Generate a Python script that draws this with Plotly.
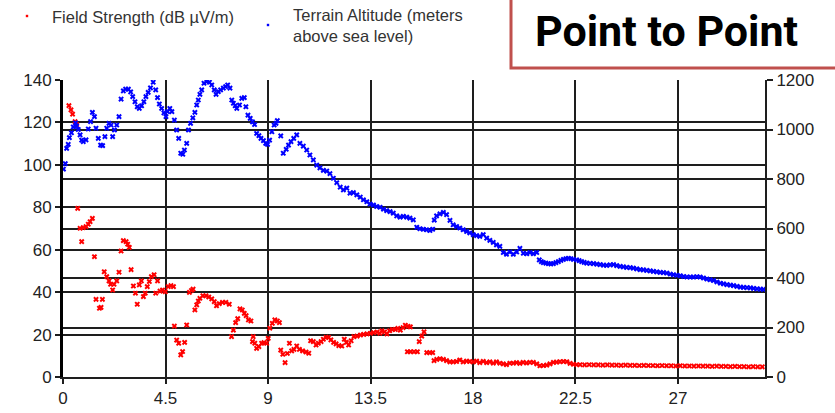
import plotly.graph_objects as go

# ---------------- data ----------------
fs_km = [0.26, 0.35, 0.42, 0.53, 0.6, 0.645, 0.75, 0.82, 0.89, 1.01, 1.11, 1.19, 1.29, 1.38, 1.45,
         1.6, 1.67, 1.73, 1.81, 1.92, 2.02, 2.09, 2.18, 2.24, 2.36, 2.46, 2.55, 2.65, 2.77, 2.84,
         2.91, 2.99, 3.09, 3.18, 3.26, 3.35, 3.44, 3.53, 3.61, 3.7, 3.79, 3.88, 4.0, 4.07, 4.15,
         4.26, 4.37, 4.49, 4.62, 4.74, 4.85, 4.89, 4.99, 5.08, 5.17, 5.25, 5.34, 5.43, 5.55, 5.64,
         5.71, 5.79, 5.87, 5.94, 6.01, 6.14, 6.28, 6.4, 6.53, 6.64, 6.74, 6.86, 7.0, 7.15, 7.3,
         7.4, 7.48, 7.58, 7.67, 7.77, 7.87, 7.96, 8.04, 8.14, 8.25, 8.32, 8.35, 8.42, 8.5, 8.6,
         8.72, 8.82, 8.94, 9.01, 9.08, 9.19, 9.3, 9.41, 9.5, 9.56, 9.65, 9.75, 9.85, 9.94, 10.04,
         10.14, 10.26, 10.38, 10.52, 10.67, 10.79, 10.87, 10.99, 11.11, 11.21, 11.33, 11.43, 11.55,
         11.66, 11.76, 11.88, 11.99, 12.11, 12.24, 12.35, 12.44, 12.54, 12.65, 12.77, 12.91, 13.06,
         13.2, 13.35, 13.5, 13.64, 13.79, 13.91, 14.0, 14.12, 14.22, 14.34, 14.46, 14.59, 14.7,
         14.81, 14.93, 15.03, 15.15, 15.25, 15.12, 15.26, 15.41, 15.56, 15.64, 15.75, 15.85, 15.97,
         16.11, 16.23, 16.29, 16.41, 16.55, 16.7, 16.84, 16.99, 17.13, 17.28, 17.42, 17.57, 17.72,
         17.86, 18.01, 18.16, 18.3, 18.45, 18.6, 18.74, 18.89, 19.03, 19.18, 19.33, 19.47, 19.62,
         19.77, 19.91, 20.06, 20.2, 20.35, 20.5, 20.65, 20.8, 20.94, 21.09, 21.24, 21.38, 21.53,
         21.67, 21.82, 21.97, 22.12, 22.26, 22.41, 22.55, 22.7, 22.9, 23.1, 23.3, 23.5, 23.7, 23.9,
         24.1, 24.3, 24.5, 24.7, 24.9, 25.1, 25.3, 25.5, 25.7, 25.9, 26.1, 26.3, 26.5, 26.7, 26.9,
         27.1, 27.3, 27.5, 27.7, 27.9, 28.1, 28.3, 28.5, 28.7, 28.9, 29.1, 29.3, 29.5, 29.7, 29.9,
         30.1, 30.3, 30.5, 30.7]
fs_db = [127.9, 125.9, 123.9, 120.4, 119.0, 79.5, 70.1, 63.8, 70.4, 70.9, 72.0, 73.2, 74.8, 56.7, 36.6,
         32.4, 32.8, 36.6, 49.6, 47.3, 45.3, 43.7, 41.0, 43.7, 45.3, 49.4, 59.4, 64.3, 63.8, 62.6,
         61.1, 50.6, 42.9, 39.5, 34.3, 43.4, 45.3, 37.9, 39.5, 42.6, 45.0, 47.3, 48.2, 39.5, 45.3,
         40.5, 41.0, 40.2, 42.6, 43.1, 42.6, 24.0, 17.4, 15.9, 10.4, 12.0, 16.3, 24.5, 39.9, 40.8,
         41.4, 31.6, 34.0, 35.8, 37.1, 38.3, 38.3, 37.7, 36.8, 35.5, 33.6, 34.6, 35.2, 35.2, 34.3,
         19.0, 22.1, 25.6, 27.5, 32.1, 31.6, 30.0, 28.9, 26.9, 26.4, 16.7, 19.0, 15.9, 13.5, 14.3,
         15.9, 16.2, 15.9, 18.2, 23.0, 25.3, 26.9, 26.4, 25.6, 12.7, 10.7, 6.8, 11.1, 15.9, 12.3,
         13.0, 14.6, 13.0, 12.3, 11.8, 11.2, 17.1, 16.7, 15.1, 15.9, 16.7, 17.8, 18.7,
         18.7, 17.5, 16.3, 15.6, 14.8, 14.6, 17.8, 16.3, 15.1, 17.1, 19.0, 19.3, 19.8,
         20.1, 20.3, 20.6, 20.9, 21.2, 20.6, 21.8, 21.3, 20.3, 21.8, 22.4, 22.4, 22.9,
         22.1, 23.3, 24.4, 23.9, 23.6, 11.9, 11.9, 11.9, 11.9, 16.7, 19.3, 21.3, 11.5,
         11.5, 11.5, 7.7, 8.3, 8.6, 8.3, 7.7, 7.1, 7.1, 7.3, 8.0, 7.1, 7.5,
         7.3, 7.1, 7.5, 6.8, 7.4, 6.8, 7.1, 6.5, 7.1, 6.5, 6.2, 5.8, 6.5,
         6.5, 6.8, 6.4, 6.9, 6.6, 6.9, 6.9, 6.2, 5.3, 5.4, 5.6, 6.2, 6.9,
         7.0, 7.2, 7.3, 7.2, 6.4, 6.0, 5.8, 5.8, 5.7, 5.8, 5.7, 5.7, 5.6, 5.7,
         5.6, 5.6, 5.5, 5.6, 5.5, 5.5, 5.4, 5.5, 5.4, 5.4, 5.3, 5.4, 5.3, 5.3, 5.2,
         5.3, 5.2, 5.2, 5.1, 5.2, 5.1, 5.1, 5.0, 5.1, 5.0, 5.0, 4.9, 5.0, 4.9, 4.9,
         4.8, 4.9, 4.8, 4.8]

ta_km = [0.02, 0.1, 0.16, 0.23, 0.28, 0.37, 0.45, 0.55, 0.6, 0.67, 0.75, 0.82, 0.89, 1.01, 1.11,
         1.21, 1.29, 1.38, 1.45, 1.55, 1.65, 1.74, 1.84, 1.92, 2.02, 2.11, 2.18, 2.26, 2.36, 2.46,
         2.55, 2.65, 2.75, 2.87, 2.97, 3.06, 3.16, 3.26, 3.35, 3.45, 3.55, 3.64, 3.74, 3.84, 3.96,
         4.07, 4.15, 4.23, 4.33, 4.43, 4.52, 4.59, 4.69, 4.78, 4.89, 4.99, 5.08, 5.17, 5.26, 5.33,
         5.43, 5.51, 5.6, 5.7, 5.79, 5.87, 5.94, 6.01, 6.09, 6.19, 6.31, 6.43, 6.53, 6.64, 6.72,
         6.82, 6.92, 7.04, 7.14, 7.23, 7.33, 7.41, 7.48, 7.56, 7.63, 7.75, 7.85, 7.96, 8.03, 8.12,
         8.22, 8.32, 8.41, 8.5, 8.6, 8.69, 8.8, 8.9, 8.98, 9.07, 9.17, 9.27, 9.35, 9.41, 9.56,
         9.67, 9.8, 9.9, 10.01, 10.13, 10.26, 10.4, 10.55, 10.7, 10.84, 10.99, 11.14, 11.28, 11.43,
         11.58, 11.72, 11.87, 12.02, 12.17, 12.31, 12.46, 12.6, 12.75, 12.9, 13.05, 13.19, 13.34,
         13.48, 13.63, 13.77, 13.92, 14.07, 14.21, 14.36, 14.5, 14.65, 14.8, 14.94, 15.09, 15.23,
         15.38, 15.53, 15.67, 15.82, 15.96, 16.11, 16.23, 16.3, 16.4, 16.55, 16.7, 16.84, 16.99,
         17.13, 17.28, 17.42, 17.57, 17.72, 17.86, 18.01, 18.16, 18.3, 18.45, 18.6, 18.74, 18.89,
         19.03, 19.18, 19.33, 19.47, 19.62, 19.77, 19.92, 20.06, 20.21, 20.36, 20.5, 20.65, 20.8,
         20.91, 21.0, 21.09, 21.2, 21.31, 21.42, 21.53, 21.64, 21.75, 21.86, 21.97, 22.08, 22.19,
         22.3, 22.41, 22.55, 22.66, 22.77, 22.88, 22.99, 23.14, 23.29, 23.44, 23.58, 23.73, 23.87,
         24.02, 24.17, 24.31, 24.46, 24.6, 24.75, 24.9, 25.04, 25.19, 25.34, 25.48, 25.63, 25.78,
         25.92, 26.07, 26.22, 26.36, 26.51, 26.66, 26.8, 26.95, 27.1, 27.25, 27.39, 27.54, 27.68,
         27.83, 27.97, 28.12, 28.27, 28.41, 28.56, 28.71, 28.86, 29.0, 29.15, 29.3, 29.44, 29.59,
         29.74, 29.88, 30.03, 30.18, 30.32, 30.47, 30.62, 30.75]
ta_m = [840, 862, 924, 940, 967, 987, 1010, 1027, 1014, 1000, 978, 957, 951, 958, 1002,
        1032, 1069, 1052, 1005, 964, 937, 935, 971, 1005, 1025, 1018, 971, 998, 1018, 1052,
        1123, 1156, 1163, 1163, 1152, 1133, 1112, 1092, 1085, 1096, 1112, 1133, 1150, 1168, 1191,
        1160, 1129, 1103, 1085, 1067, 1052, 1072, 1085, 1072, 1038, 998, 964, 904, 900, 917,
        944, 998, 1025, 1047, 1069, 1099, 1119, 1142, 1160, 1187, 1194, 1191, 1180, 1160, 1142,
        1153, 1160, 1167, 1173, 1180, 1167, 1119, 1106, 1096, 1085, 1099, 1126, 1129, 1092, 1058,
        1045, 1031, 1020, 984, 975, 964, 955, 944, 940, 957, 991, 1018, 1025, 1036, 974,
        904, 920, 937, 951, 964, 978, 944, 933, 917, 897, 877, 856, 845, 835,
        832, 822, 803, 785, 767, 756, 763, 743, 745, 736, 727, 716, 708,
        699, 695, 689, 686, 678, 672, 668, 662, 651, 646, 649, 646, 642,
        635, 605, 599, 597, 595, 592, 597, 634, 651, 659, 665, 656, 633,
        615, 608, 602, 595, 588, 582, 575, 571, 568, 575, 561, 552, 544,
        534, 528, 503, 496, 505, 496, 505, 520, 500, 498, 503, 498, 503,
        473, 466, 462, 460, 458, 457, 458, 462, 466, 471, 475, 478, 480,
        478, 475, 473, 470, 466, 463, 460, 459, 458, 456, 454, 452, 451,
        453, 454, 450, 447, 445, 443, 442, 440, 437, 434, 433, 431, 429,
        427, 425, 423, 422, 420, 416, 413, 411, 409, 406, 404, 404, 404,
        405, 404, 400, 396, 393, 390, 384, 379, 376, 373, 371, 369, 366,
        363, 362, 361, 360, 358, 356, 355, 354]

x_ticks = [0, 4.5, 9, 13.5, 18, 22.5, 27]
x_tick_text = ["0", "4.5", "9", "13.5", "18", "22.5", "27"]
y1_ticks = [0, 20, 40, 60, 80, 100, 120, 140]
y2_ticks = [0, 200, 400, 600, 800, 1000, 1200]

fs_name = "Field Strength (dB µV/m)"
ta_name = "Terrain Altitude (meters<br>above sea level)"
title_text = "Point to Point"

# ---------------- layout geometry ----------------
W, H = 835, 413
ML, MR, MT, MB = 63, 70, 80, 36
PW, PH = W - ML - MR, H - MT - MB


def px(xp):
    return (xp - ML) / PW


def py(yp):
    return (H - MB - yp) / PH


GRID = "#1e1e1e"
TICKFONT = dict(family="Liberation Sans, Arial, sans-serif", size=17, color="#222222")

fig = go.Figure()
fig.add_trace(go.Scatter(x=fs_km, y=fs_db, mode="markers", name="Field Strength",
                         marker=dict(symbol="x", size=5, color="#FF0000", line=dict(width=0)),
                         showlegend=False, yaxis="y"))
fig.add_trace(go.Scatter(x=ta_km, y=ta_m, mode="markers", name="Terrain Altitude",
                         marker=dict(symbol="x", size=5, color="#0000FF", line=dict(width=0)),
                         showlegend=False, yaxis="y2"))

fig.update_layout(
    width=W, height=H,
    margin=dict(l=ML, r=MR, t=MT, b=MB, pad=0),
    paper_bgcolor="white", plot_bgcolor="white",
    xaxis=dict(range=[0, 30.82], tickvals=x_ticks, ticktext=x_tick_text, automargin=False,
               showgrid=True, gridcolor=GRID, gridwidth=1.5, zeroline=False,
               showline=True, linecolor=GRID, linewidth=2,
               ticks="outside", ticklen=5, tickcolor=GRID, tickwidth=1.5,
               tickfont=TICKFONT),
    yaxis=dict(range=[0, 140], tickvals=y1_ticks, automargin=False,
               showgrid=True, gridcolor=GRID, gridwidth=1.5, zeroline=False,
               showline=True, linecolor="black", linewidth=3,
               ticks="outside", ticklen=5, tickcolor=GRID, tickwidth=1.5,
               tickfont=TICKFONT),
    yaxis2=dict(range=[0, 1200], tickvals=y2_ticks, overlaying="y", side="right", automargin=False,
                showgrid=True, gridcolor=GRID, gridwidth=1.5, zeroline=False,
                showline=True, linecolor=GRID, linewidth=2,
                ticks="outside", ticklen=6, tickcolor=GRID, tickwidth=1.5,
                tickfont=TICKFONT),
    showlegend=False,
)

# legend drawn as text + tiny markers
LEGFONT = dict(family="Liberation Sans, Arial, sans-serif", size=16.5, color="#333333")
fig.add_annotation(xref="paper", yref="paper", x=px(50), y=py(17), text=fs_name,
                   showarrow=False, xanchor="left", yanchor="middle", font=LEGFONT)
fig.add_annotation(xref="paper", yref="paper", x=px(291), y=py(26), text=ta_name,
                   showarrow=False, xanchor="left", yanchor="middle", align="left", font=LEGFONT)
for (cx, cy, col) in [(27, 16, "#FF0000"), (268, 25, "#0000FF")]:
    fig.add_shape(type="rect", xref="paper", yref="paper", xsizemode="pixel", ysizemode="pixel",
                  xanchor=px(cx), yanchor=py(cy), x0=-1.2, x1=1.2, y0=-1.2, y1=1.2,
                  fillcolor=col, line=dict(width=0))

# "Point to Point" box
fig.add_shape(type="rect", xref="paper", yref="paper",
              x0=px(511), x1=px(850), y0=py(68), y1=py(-10),
              fillcolor="white", line=dict(color="#C0504D", width=3), layer="above")
fig.add_annotation(xref="paper", yref="paper", x=px(666), y=py(31), text="<b>" + title_text + "</b>",
                   showarrow=False, xanchor="center", yanchor="middle",
                   font=dict(family="Roboto, sans-serif", size=43, color="black"))

fig.write_html("out.html", config={"displayModeBar": False},
               post_script="document.body.style.margin='0px';")
